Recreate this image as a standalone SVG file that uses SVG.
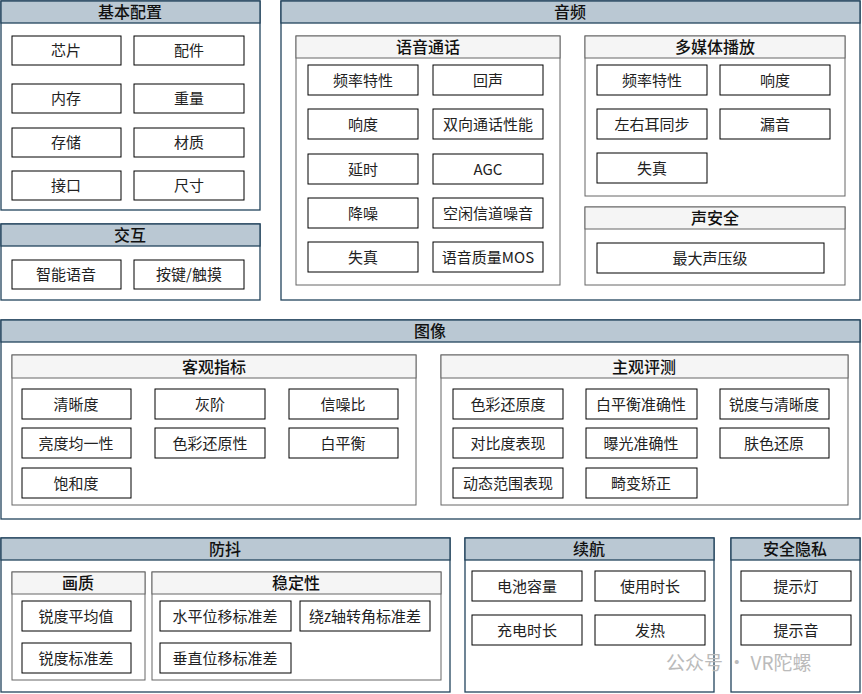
<svg xmlns="http://www.w3.org/2000/svg" width="862" height="694" viewBox="0 0 862 694">
<style>
.oc{fill:#fff;stroke:#23445d;stroke-width:1.3}
.oh{fill:#bac8d3;stroke:#23445d;stroke-width:1.3}
.ic{fill:#fff;stroke:#666;stroke-width:1}
.ih{fill:#f5f5f5;stroke:#666;stroke-width:1}
.lf{fill:#fff;stroke:#000;stroke-width:1}
text{font-family:"Microsoft YaHei","Noto Sans CJK SC",sans-serif;font-size:15px;fill:#222;text-anchor:middle;dominant-baseline:central;transform:translateY(-1px)}
.h{font-size:16px;font-weight:500;fill:#111}
.wm{font-size:19px;fill:#bbb;text-anchor:start}
</style>
<rect width="862" height="694" fill="#fff"/>
<g id="basic"><rect class="oc" x="1" y="1" width="259" height="209"/><rect class="oh" x="1" y="1" width="259" height="22"/><text class="h" x="130" y="12">基本配置</text>
<rect class="lf" x="12" y="36" width="109" height="29"/><text x="66" y="50">芯片</text>
<rect class="lf" x="134" y="36" width="110" height="29"/><text x="189" y="50">配件</text>
<rect class="lf" x="12" y="84" width="109" height="29"/><text x="66" y="98">内存</text>
<rect class="lf" x="134" y="84" width="110" height="29"/><text x="189" y="98">重量</text>
<rect class="lf" x="12" y="128" width="109" height="29"/><text x="66" y="142">存储</text>
<rect class="lf" x="134" y="128" width="110" height="29"/><text x="189" y="142">材质</text>
<rect class="lf" x="12" y="171" width="109" height="29"/><text x="66" y="185">接口</text>
<rect class="lf" x="134" y="171" width="110" height="29"/><text x="189" y="185">尺寸</text></g>
<g id="interact"><rect class="oc" x="1" y="224" width="259" height="76"/><rect class="oh" x="1" y="224" width="259" height="22"/><text class="h" x="130" y="235">交互</text>
<rect class="lf" x="12" y="260" width="109" height="29"/><text x="66" y="274">智能语音</text>
<rect class="lf" x="134" y="260" width="110" height="29"/><text x="189" y="274">按键/触摸</text></g>
<g id="audio"><rect class="oc" x="281" y="1" width="579" height="299"/><rect class="oh" x="281" y="1" width="579" height="22"/><text class="h" x="570" y="12">音频</text>
<rect class="ic" x="296" y="36" width="264" height="249"/><rect class="ih" x="296" y="36" width="264" height="22"/><text class="h" x="428" y="47">语音通话</text>
<rect class="lf" x="308" y="65" width="110" height="30"/><text x="363" y="80">频率特性</text>
<rect class="lf" x="433" y="65" width="110" height="30"/><text x="488" y="80">回声</text>
<rect class="lf" x="308" y="109" width="110" height="30"/><text x="363" y="124">响度</text>
<rect class="lf" x="433" y="109" width="110" height="30"/><text x="488" y="124">双向通话性能</text>
<rect class="lf" x="308" y="154" width="110" height="30"/><text x="363" y="169">延时</text>
<rect class="lf" x="433" y="154" width="110" height="30"/><text x="488" y="169">AGC</text>
<rect class="lf" x="308" y="198" width="110" height="30"/><text x="363" y="213">降噪</text>
<rect class="lf" x="433" y="198" width="110" height="30"/><text x="488" y="213">空闲信道噪音</text>
<rect class="lf" x="308" y="242" width="110" height="30"/><text x="363" y="257">失真</text>
<rect class="lf" x="433" y="242" width="110" height="30"/><text x="488" y="257">语音质量MOS</text>
<rect class="ic" x="585" y="36" width="260" height="160"/><rect class="ih" x="585" y="36" width="260" height="22"/><text class="h" x="715" y="47">多媒体播放</text>
<rect class="lf" x="597" y="65" width="110" height="30"/><text x="652" y="80">频率特性</text>
<rect class="lf" x="720" y="65" width="110" height="30"/><text x="775" y="80">响度</text>
<rect class="lf" x="597" y="109" width="110" height="30"/><text x="652" y="124">左右耳同步</text>
<rect class="lf" x="720" y="109" width="110" height="30"/><text x="775" y="124">漏音</text>
<rect class="lf" x="597" y="153" width="110" height="30"/><text x="652" y="168">失真</text>
<rect class="ic" x="585" y="207" width="260" height="78"/><rect class="ih" x="585" y="207" width="260" height="22"/><text class="h" x="715" y="218">声安全</text>
<rect class="lf" x="597" y="243" width="227" height="30"/><text x="710" y="258">最大声压级</text></g>
<g id="image"><rect class="oc" x="1" y="320" width="859" height="199"/><rect class="oh" x="1" y="320" width="859" height="22"/><text class="h" x="430" y="331">图像</text>
<rect class="ic" x="12" y="355" width="404" height="150"/><rect class="ih" x="12" y="355" width="404" height="23"/><text class="h" x="214" y="367">客观指标</text>
<rect class="lf" x="22" y="389" width="109" height="30"/><text x="76" y="404">清晰度</text>
<rect class="lf" x="155" y="389" width="110" height="30"/><text x="210" y="404">灰阶</text>
<rect class="lf" x="289" y="389" width="109" height="30"/><text x="343" y="404">信噪比</text>
<rect class="lf" x="22" y="428" width="109" height="30"/><text x="76" y="443">亮度均一性</text>
<rect class="lf" x="155" y="428" width="110" height="30"/><text x="210" y="443">色彩还原性</text>
<rect class="lf" x="289" y="428" width="109" height="30"/><text x="343" y="443">白平衡</text>
<rect class="lf" x="22" y="468" width="109" height="30"/><text x="76" y="483">饱和度</text>
<rect class="ic" x="441" y="355" width="407" height="150"/><rect class="ih" x="441" y="355" width="407" height="23"/><text class="h" x="644" y="367">主观评测</text>
<rect class="lf" x="453" y="389" width="110" height="30"/><text x="508" y="404">色彩还原度</text>
<rect class="lf" x="586" y="389" width="111" height="30"/><text x="641" y="404">白平衡准确性</text>
<rect class="lf" x="720" y="389" width="109" height="30"/><text x="774" y="404">锐度与清晰度</text>
<rect class="lf" x="453" y="428" width="110" height="30"/><text x="508" y="443">对比度表现</text>
<rect class="lf" x="586" y="428" width="111" height="30"/><text x="641" y="443">曝光准确性</text>
<rect class="lf" x="720" y="428" width="109" height="30"/><text x="774" y="443">肤色还原</text>
<rect class="lf" x="453" y="468" width="110" height="30"/><text x="508" y="483">动态范围表现</text>
<rect class="lf" x="586" y="468" width="111" height="30"/><text x="641" y="483">畸变矫正</text></g>
<g id="stab"><rect class="oc" x="1" y="538" width="449" height="154"/><rect class="oh" x="1" y="538" width="449" height="22"/><text class="h" x="225" y="549">防抖</text>
<rect class="ic" x="12" y="572" width="133" height="108"/><rect class="ih" x="12" y="572" width="133" height="22"/><text class="h" x="78" y="583">画质</text>
<rect class="lf" x="22" y="601" width="109" height="30"/><text x="76" y="616">锐度平均值</text>
<rect class="lf" x="22" y="643" width="109" height="30"/><text x="76" y="658">锐度标准差</text>
<rect class="ic" x="152" y="572" width="289" height="108"/><rect class="ih" x="152" y="572" width="289" height="22"/><text class="h" x="296" y="583">稳定性</text>
<rect class="lf" x="160" y="601" width="131" height="30"/><text x="225" y="616">水平位移标准差</text>
<rect class="lf" x="300" y="601" width="130" height="30"/><text x="365" y="616">绕z轴转角标准差</text>
<rect class="lf" x="160" y="643" width="131" height="30"/><text x="225" y="658">垂直位移标准差</text></g>
<g id="battery"><rect class="oc" x="465" y="538" width="249" height="154"/><rect class="oh" x="465" y="538" width="249" height="22"/><text class="h" x="589" y="549">续航</text>
<rect class="lf" x="472" y="571" width="110" height="30"/><text x="527" y="586">电池容量</text>
<rect class="lf" x="595" y="571" width="110" height="30"/><text x="650" y="586">使用时长</text>
<rect class="lf" x="472" y="615" width="110" height="30"/><text x="527" y="630">充电时长</text>
<rect class="lf" x="595" y="615" width="110" height="30"/><text x="650" y="630">发热</text></g>
<g id="privacy"><rect class="oc" x="731" y="538" width="129" height="154"/><rect class="oh" x="731" y="538" width="129" height="22"/><text class="h" x="795" y="549">安全隐私</text>
<rect class="lf" x="741" y="571" width="110" height="30"/><text x="796" y="586">提示灯</text>
<rect class="lf" x="741" y="615" width="110" height="30"/><text x="796" y="630">提示音</text></g>
<g id="connectors"/>
<text class="wm" x="666" y="662">公众号 · VR陀螺</text>
</svg>
